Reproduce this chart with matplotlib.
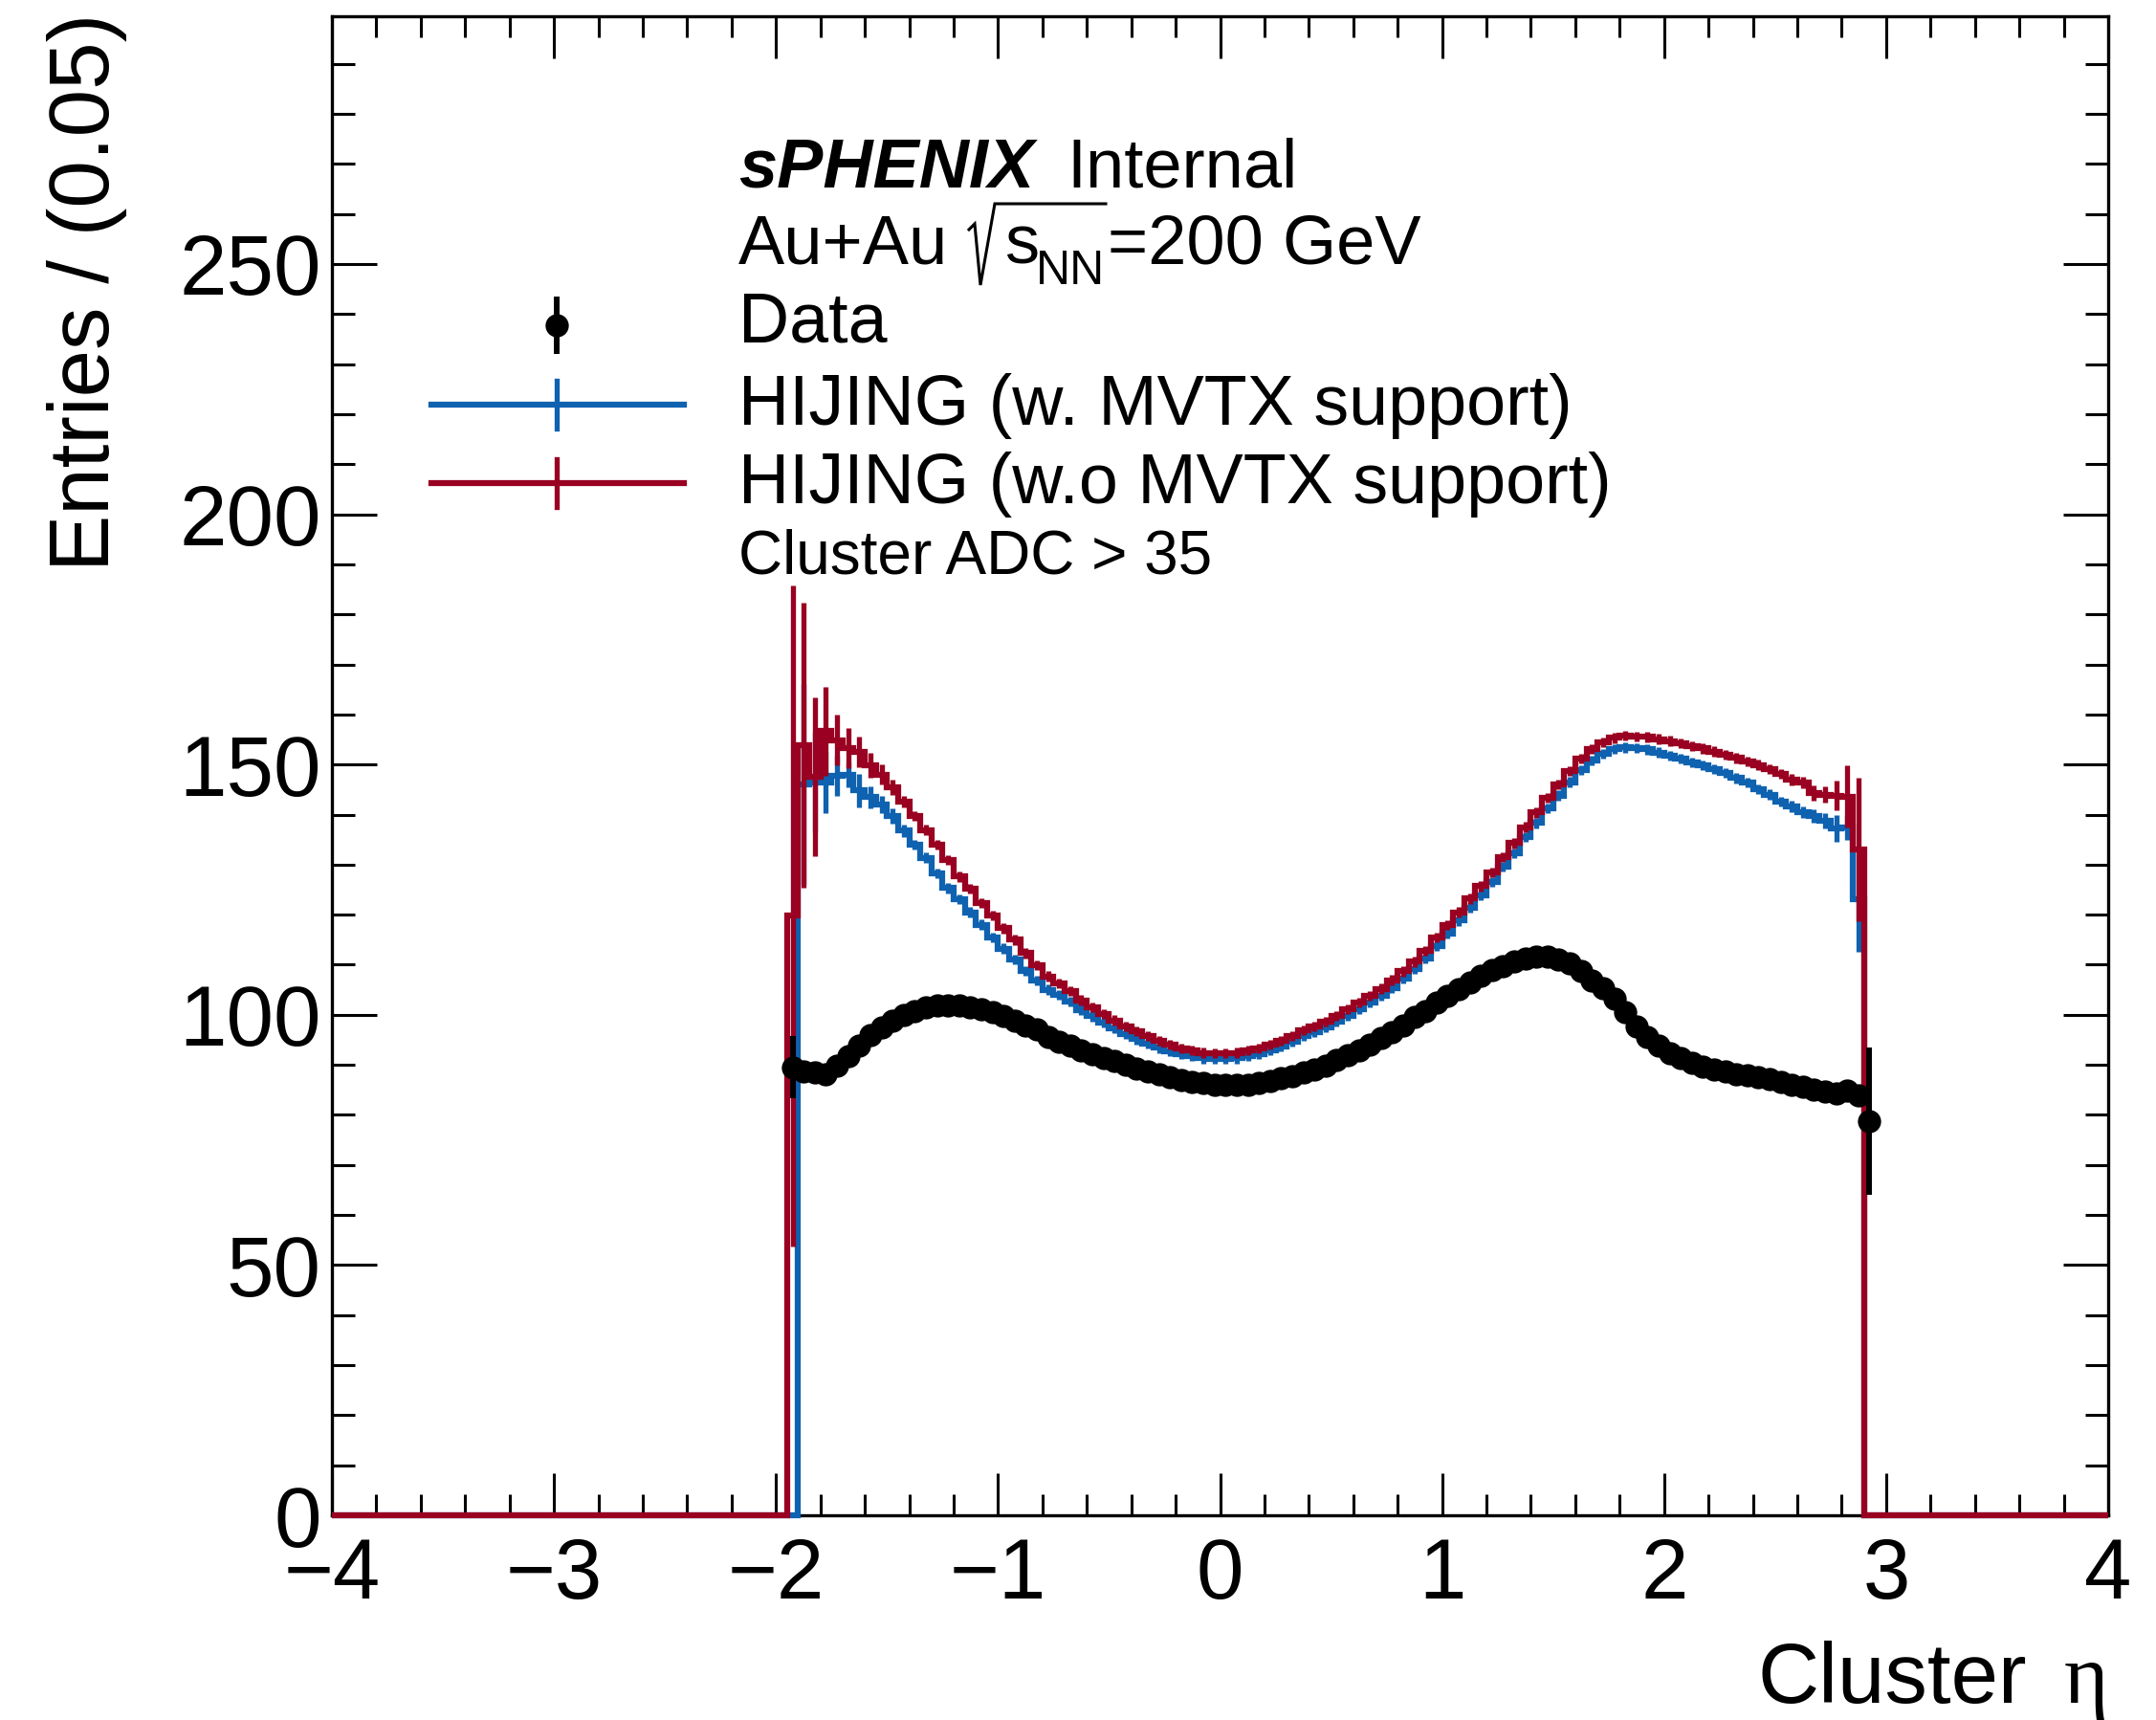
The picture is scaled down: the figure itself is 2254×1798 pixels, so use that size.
import numpy as np
import matplotlib
matplotlib.use("Agg")
import matplotlib.pyplot as plt
from matplotlib.lines import Line2D
from matplotlib.ticker import MultipleLocator

plt.rcParams['font.family'] = ['Liberation Sans', 'DejaVu Sans']
plt.rcParams['mathtext.fontset'] = 'custom'
plt.rcParams['mathtext.rm'] = 'Liberation Sans'
plt.rcParams['mathtext.it'] = 'Liberation Sans:italic'
plt.rcParams['mathtext.bf'] = 'Liberation Sans:bold'

# binning: 0.05 wide bins, histogram range -4..4
BIN_W = 0.05
hist_lo = -1.95   # low edge of first filled HIJING bin
data_lo = -1.95   # low edge of first data bin

# HIJING w.o MVTX support (red), bins -1.95 .. 2.90
red_vals = [119.8, 153.9, 147.6, 156.7, 154.9, 153.3, 152.5, 149.9, 148.0, 145.4,
            142.6, 139.7, 136.9, 134.0, 130.9, 127.6, 125.2, 122.3, 119.8, 117.3,
            115.0, 112.3, 109.9, 107.7, 106.3, 104.7, 102.9, 101.5, 100.2, 98.9,
            97.7, 96.7, 95.8, 94.8, 94.0, 93.3, 92.9, 92.4, 92.3, 92.3,
            92.4, 92.9, 93.3, 94.0, 94.8, 95.8, 96.9, 97.7, 98.6, 99.8,
            101.1, 102.4, 103.8, 105.2, 106.9, 108.7, 110.6, 112.8, 115.4, 117.9,
            120.5, 123.2, 125.7, 128.4, 131.5, 134.3, 137.5, 140.4, 143.3, 146.0,
            148.7, 151.2, 153.1, 154.4, 155.3, 155.8, 155.6, 155.5, 155.1, 154.7,
            154.2, 153.7, 153.2, 152.6, 151.9, 151.3, 150.6, 149.9, 149.1, 148.1,
            147.0, 146.4, 144.3, 144.0, 143.8, 143.6, 133.0]
red_err = [66.0, 28.5, 15.9, 8.9, 5.0, 4.0, 3.0, 2.5, 2.0, 1.5,
           1.2, 1.0, 1.0, 1.0, 1.0, 1.0, 1.0, 1.0, 1.0, 1.0,
           1.0, 1.0, 1.0, 1.0, 1.0, 1.0, 1.0, 1.0, 1.0, 1.0,
           1.0, 1.0, 1.0, 1.0, 1.0, 1.0, 1.0, 1.0, 1.0, 1.0,
           1.0, 1.0, 1.0, 1.0, 1.0, 1.0, 1.0, 1.0, 1.0, 1.0,
           1.0, 1.0, 1.0, 1.0, 1.0, 1.0, 1.0, 1.0, 1.0, 1.0,
           1.0, 1.0, 1.0, 1.0, 1.0, 1.0, 1.0, 1.0, 1.0, 1.0,
           1.0, 1.0, 1.0, 1.0, 1.0, 1.0, 1.0, 1.0, 1.0, 1.0,
           1.0, 1.0, 1.0, 1.0, 1.0, 1.0, 1.0, 1.0, 1.0, 1.0,
           1.2, 1.2, 1.5, 1.6, 3.0, 6.2, 14.4]

# HIJING w. MVTX support (blue), same bins (first bin empty)
blue_vals = [0.0, 146.0, 146.5, 146.5, 147.8, 148.0, 144.8, 143.5, 142.0, 139.7,
             136.8, 134.0, 131.4, 128.2, 125.3, 123.1, 120.5, 118.0, 115.4, 113.2,
             111.0, 108.8, 106.8, 105.0, 104.0, 102.6, 101.0, 99.7, 98.5, 97.3,
             96.1, 95.1, 94.3, 93.4, 92.7, 92.1, 91.7, 91.3, 91.2, 91.2,
             91.3, 91.8, 92.2, 92.9, 93.7, 94.7, 95.8, 96.6, 97.5, 98.6,
             99.8, 101.1, 102.4, 103.8, 105.4, 107.2, 109.1, 111.2, 113.8, 116.2,
             118.8, 121.4, 123.9, 126.5, 129.6, 132.3, 135.5, 138.3, 141.2, 143.8,
             146.5, 148.9, 150.8, 152.1, 153.1, 153.4, 153.3, 153.0, 152.4, 151.8,
             151.2, 150.4, 149.8, 149.1, 148.3, 147.3, 146.4, 145.1, 144.0, 142.6,
             141.6, 140.5, 139.7, 138.7, 137.3, 137.5, 123.0]
blue_err = [0.0, 20.0, 10.0, 6.2, 4.0, 2.5, 3.4, 2.2, 1.8, 1.5,
            1.2, 1.0, 1.0, 1.0, 1.0, 1.0, 1.0, 1.0, 1.0, 1.0,
            1.0, 1.0, 1.0, 1.0, 1.0, 1.0, 1.0, 1.0, 1.0, 1.0,
            1.0, 1.0, 1.0, 1.0, 1.0, 1.0, 1.0, 1.0, 1.0, 1.0,
            1.0, 1.0, 1.0, 1.0, 1.0, 1.0, 1.0, 1.0, 1.0, 1.0,
            1.0, 1.0, 1.0, 1.0, 1.0, 1.0, 1.0, 1.0, 1.0, 1.0,
            1.0, 1.0, 1.0, 1.0, 1.0, 1.0, 1.0, 1.0, 1.0, 1.0,
            1.0, 1.0, 1.0, 1.0, 1.0, 1.0, 1.0, 1.0, 1.0, 1.0,
            1.0, 1.0, 1.0, 1.0, 1.0, 1.0, 1.0, 1.0, 1.0, 1.0,
            1.2, 1.2, 1.3, 1.5, 2.7, 2.5, 10.5]

# Data, bins -1.95 .. 2.95
data_vals = [89.5, 88.6, 88.4, 88.2, 89.9, 91.7, 93.9, 95.9, 97.4, 98.9,
             100.0, 100.8, 101.4, 101.8, 101.9, 101.9, 101.5, 101.1, 100.5, 99.7,
             98.9, 97.9, 97.0, 95.6, 94.6, 93.8, 92.9, 92.1, 91.4, 90.7,
             90.0, 89.3, 88.7, 88.1, 87.5, 87.0, 86.6, 86.3, 86.0, 86.0,
             86.0, 86.1, 86.4, 86.8, 87.3, 87.8, 88.4, 89.1, 89.8, 90.9,
             91.9, 92.8, 94.1, 95.4, 96.6, 97.9, 99.5, 100.8, 102.4, 103.8,
             105.2, 106.5, 107.8, 108.9, 109.8, 110.7, 111.3, 111.6, 111.6, 111.1,
             110.2, 108.7, 106.9, 105.3, 103.2, 100.5, 97.7, 95.6, 93.9, 92.4,
             91.3, 90.4, 89.7, 89.1, 88.7, 88.2, 87.9, 87.5, 87.1, 86.6,
             86.1, 85.6, 85.1, 84.7, 84.2, 84.8, 83.9, 78.8]
data_err = [6.2, 1.5, 1.2, 1.0, 1.0, 1.0, 1.0, 1.0, 1.0, 1.0,
            1.0, 1.0, 1.0, 1.0, 1.0, 1.0, 1.0, 1.0, 1.0, 1.0,
            1.0, 1.0, 1.0, 1.0, 1.0, 1.0, 1.0, 1.0, 1.0, 1.0,
            1.0, 1.0, 1.0, 1.0, 1.0, 1.0, 1.0, 1.0, 1.0, 1.0,
            1.0, 1.0, 1.0, 1.0, 1.0, 1.0, 1.0, 1.0, 1.0, 1.0,
            1.0, 1.0, 1.0, 1.0, 1.0, 1.0, 1.0, 1.0, 1.0, 1.0,
            1.0, 1.0, 1.0, 1.0, 1.0, 1.0, 1.0, 1.0, 1.0, 1.0,
            1.0, 1.0, 1.0, 1.0, 1.0, 1.0, 1.0, 1.0, 1.0, 1.0,
            1.0, 1.0, 1.0, 1.0, 1.0, 1.0, 1.0, 1.0, 1.0, 1.0,
            1.0, 1.0, 1.0, 1.0, 1.0, 1.2, 2.0, 14.7]

BLUE = '#0f62b0'
RED = '#990021'

W, H = 2254, 1798
fig = plt.figure(figsize=(W / 100, H / 100), dpi=100)
ax = fig.add_axes([347 / W, 1 - 1584 / H, (2204 - 347) / W, (1584 - 17) / H])


def fpos(x, y):
    # pixel position in the picture -> figure fraction
    return x / W, 1 - y / H


def fline(xs, ys, **kw):
    pts = [fpos(x, y) for x, y in zip(xs, ys)]
    fig.add_artist(Line2D([p[0] for p in pts], [p[1] for p in pts], **kw))


edges = np.linspace(-4, 4, 161)


def full_hist(vals, lo):
    h = np.zeros(len(edges) - 1)
    i0 = int(round((lo + 4) / BIN_W))
    h[i0:i0 + len(vals)] = vals
    return h


def centers(vals, lo):
    return lo + BIN_W * (np.arange(len(vals)) + 0.5)


hlw = 4.5
for vals, errs, col, z in [(blue_vals, blue_err, BLUE, 3.0), (red_vals, red_err, RED, 3.2)]:
    ax.stairs(full_hist(vals, hist_lo), edges, color=col, lw=hlw, baseline=None,
              zorder=z, clip_on=False)
    v = np.array(vals)
    x = centers(vals, hist_lo)
    m = v > 0
    ax.errorbar(x[m], v[m], yerr=np.array(errs)[m], fmt='none', ecolor=col,
                elinewidth=hlw * 0.85, capsize=0, zorder=z)

MS = 17.5
ax.errorbar(centers(data_vals, data_lo), data_vals, yerr=data_err, fmt='o', color='black',
            ms=MS, mew=0, elinewidth=4.3, capsize=0, zorder=5)

ax.set_xlim(-4, 4)
ax.set_ylim(0, 299.5)
ax.xaxis.set_major_locator(MultipleLocator(1))
ax.xaxis.set_minor_locator(MultipleLocator(0.2))
ax.yaxis.set_major_locator(MultipleLocator(50))
ax.yaxis.set_minor_locator(MultipleLocator(10))
ax.tick_params(which='both', direction='in', top=True, right=True, width=2.2,
               labelsize=64)
ax.tick_params(axis='x', which='major', length=32, pad=16)
ax.tick_params(axis='x', which='minor', length=16)
ax.tick_params(axis='y', which='major', length=34, pad=8)
ax.tick_params(axis='y', which='minor', length=17)
for s in ax.spines.values():
    s.set_linewidth(2.4)

# axis titles
fig.text(*fpos(2119, 1780), 'Cluster', fontsize=64, ha='right', va='baseline')
fig.text(*fpos(2204, 1780), 'η', fontsize=64, ha='right', va='baseline',
         family=['Liberation Serif', 'DejaVu Serif'])
fig.text(*fpos(91, 14), 'Entries / (0.05)', fontsize=64, rotation=90, ha='center', va='top')

# header
tx = 772
fig.text(*fpos(tx, 195), 'sPHENIX', fontsize=52, fontweight='bold', fontstyle='italic',
         va='baseline')
fig.text(*fpos(1115, 195), 'Internal', fontsize=52, va='baseline')
fig.text(*fpos(tx, 276), 'Au+Au', fontsize=52, va='baseline')
# square root sign drawn by hand, ROOT style
fline([1013, 1019, 1025, 1040, 1156], [240, 234, 298, 213, 213], color='black', lw=2.2,
      solid_joinstyle='miter')
fig.text(*fpos(1050, 276), 's', fontsize=52, va='baseline')
fig.text(*fpos(1083, 297), 'NN', fontsize=36, va='baseline')
fig.text(*fpos(1158, 276), '=200 GeV', fontsize=52, va='baseline')

# legend
fig.text(*fpos(tx, 357), 'Data', fontsize=53, va='baseline')
fig.text(*fpos(tx, 444), 'HIJING (w. MVTX support)', fontsize=53, va='baseline')
fig.text(*fpos(tx, 526), 'HIJING (w.o MVTX support)', fontsize=53, va='baseline')
fig.text(*fpos(tx, 600), 'Cluster ADC > 35', fontsize=46, va='baseline')

lx = 582
for y, col in [(423, BLUE), (505, RED)]:
    fline([451, 715], [y, y], color=col, lw=hlw)
    fline([lx, lx], [y - 25, y + 25], color=col, lw=hlw * 0.85)
fline([lx, lx], [313, 367], color='black', lw=4.3)
fline([lx], [340], marker='o', color='black', ms=MS, mew=0)

fig.savefig('out.png', dpi=100)
